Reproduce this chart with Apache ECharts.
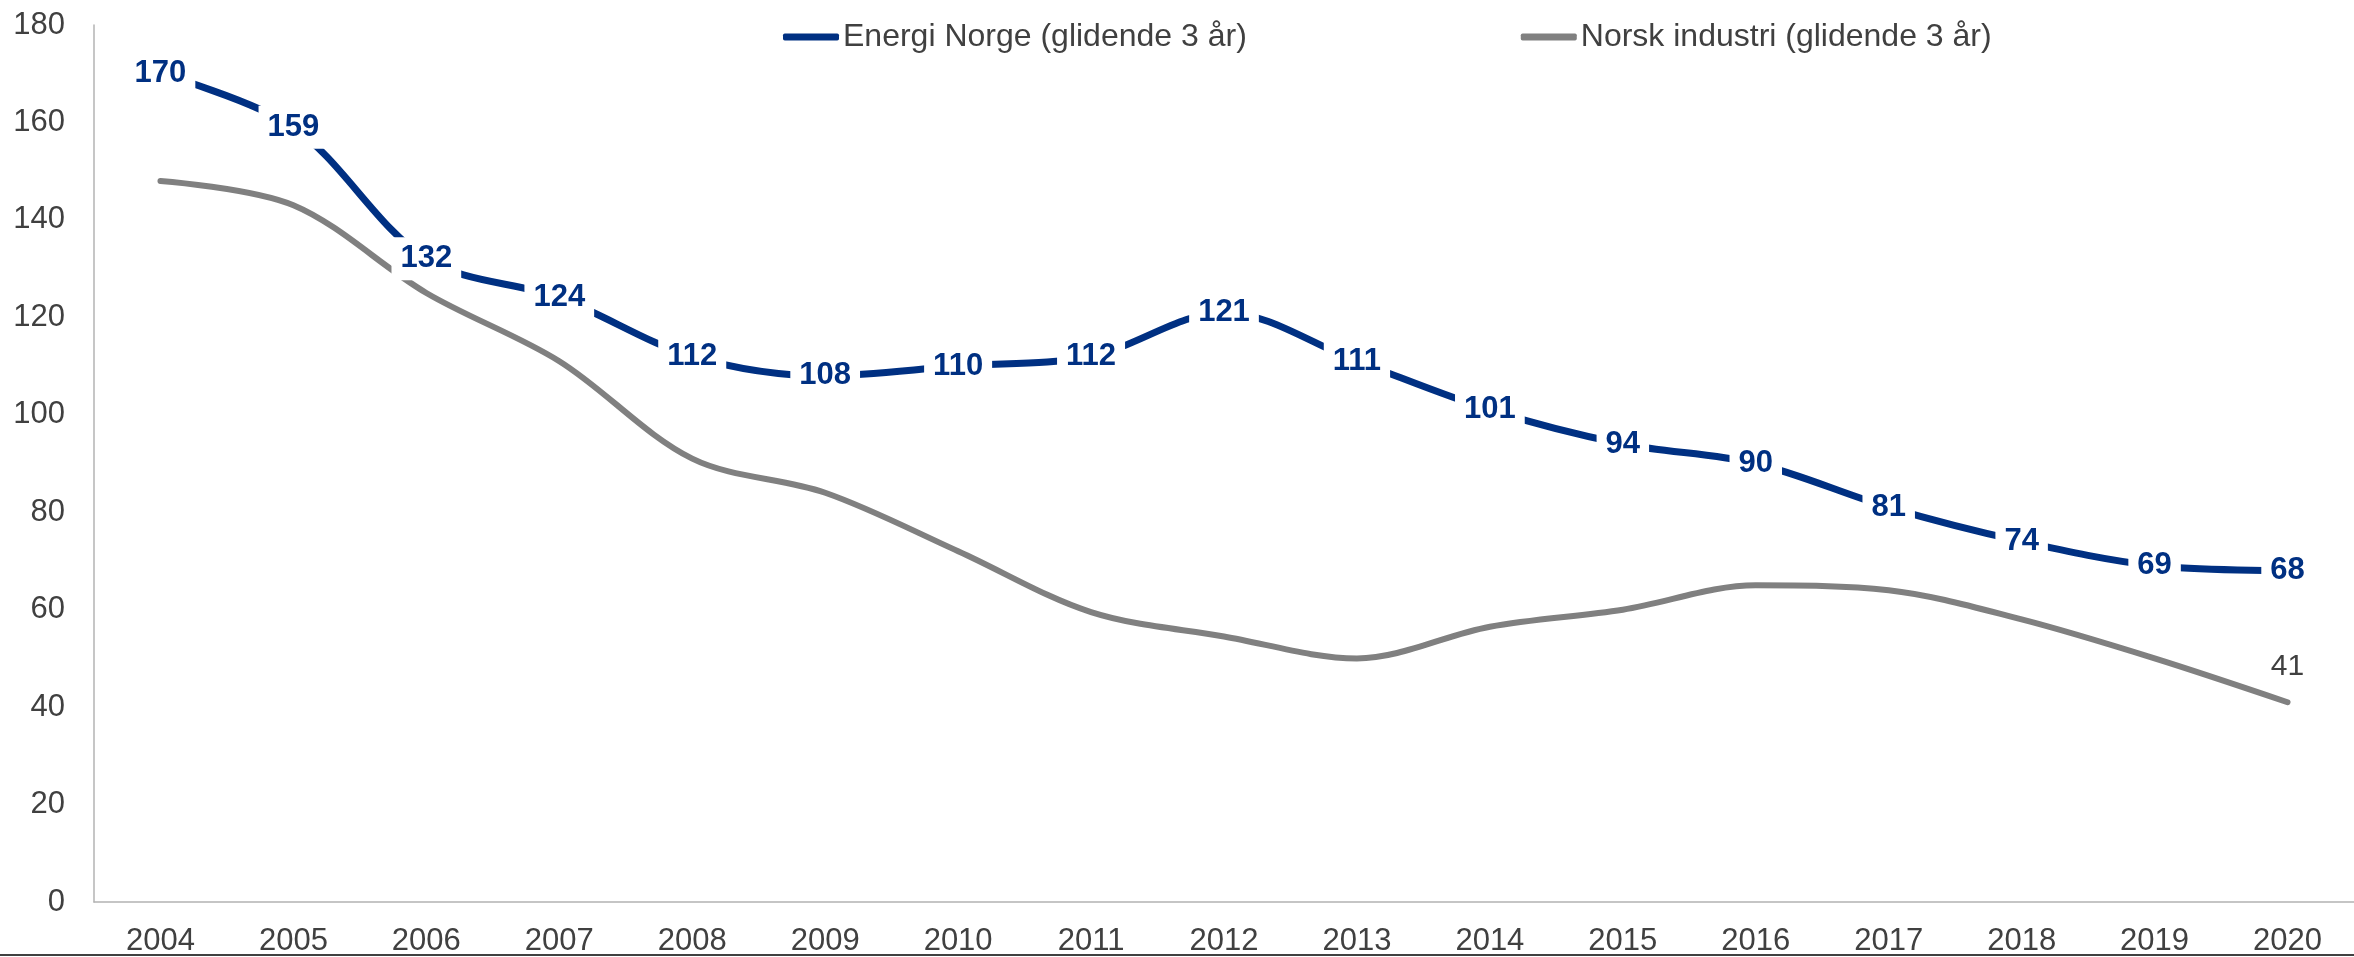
<!DOCTYPE html>
<html>
<head>
<meta charset="utf-8">
<style>
  html, body { margin: 0; padding: 0; background: #fff; }
  #chart { width: 2354px; height: 957px; }
</style>
<script src="https://cdn.jsdelivr.net/npm/echarts@6/dist/echarts.min.js"></script>
</head>
<body>
<div id="chart"></div>
<script>
var years = ['2004', '2005', '2006', '2007', '2008', '2009', '2010', '2011', '2012',
  '2013', '2014', '2015', '2016', '2017', '2018', '2019', '2020'];
var energiNorge = [170, 159, 132, 124, 112, 108, 110, 112, 121, 111, 101, 94, 90, 81, 74, 69, 68];
var norskIndustri = [148, 143, 125, 111, 91, 84, 72, 59.5, 54.5, 50, 56.5, 60, 65, 64, 58, 50, 41];
var yTicks = { min: 0, max: 180, interval: 20 };

var fontFamily = '"Liberation Sans", Arial, sans-serif';
var blue = '#003082';
var grey = '#808080';

// only the last point of the industry line carries a label
var industryData = norskIndustri.map(function (v, i) {
  if (i === norskIndustri.length - 1) {
    return { value: v, label: { show: true } };
  }
  return v;
});

var chart = echarts.init(document.getElementById('chart'));
chart.setOption({
  backgroundColor: '#ffffff',
  animation: false,
  textStyle: { fontFamily: fontFamily },
  legend: {
    left: 778,
    top: 16,
    itemGap: 274,
    itemWidth: 56,
    itemHeight: 7,
    icon: 'roundRect',
    textStyle: { fontSize: 32, color: '#404040', fontFamily: fontFamily, padding: [0, 0, 0, -1] },
    data: ['Energi Norge (glidende 3 år)', 'Norsk industri (glidende 3 år)']
  },
  grid: {
    left: 94,
    top: 25,
    bottom: 53,
    width: 2282
  },
  xAxis: {
    type: 'category',
    data: years,
    boundaryGap: true,
    axisLine: { lineStyle: { color: '#b3b3b3', width: 1.5 } },
    axisTick: { show: false },
    axisLabel: { fontSize: 31, color: '#404040', margin: 24, fontFamily: fontFamily }
  },
  yAxis: {
    type: 'value',
    min: yTicks.min,
    max: yTicks.max,
    interval: yTicks.interval,
    splitLine: { show: false },
    axisLine: { show: true, lineStyle: { color: '#b3b3b3', width: 1.5 } },
    axisTick: { show: false },
    axisLabel: { fontSize: 31, color: '#404040', margin: 29, fontFamily: fontFamily, padding: [4, 0, 0, 0] }
  },
  series: [
    {
      name: 'Norsk industri (glidende 3 år)',
      type: 'line',
      z: 2,
      data: industryData,
      smooth: 0.33,
      symbol: 'circle',
      symbolSize: 1,
      itemStyle: { color: grey },
      lineStyle: { color: grey, width: 6, cap: 'round' },
      label: {
        show: false,
        position: 'top',
        distance: 20,
        fontSize: 30,
        color: '#404040',
        fontFamily: fontFamily
      }
    },
    {
      name: 'Energi Norge (glidende 3 år)',
      type: 'line',
      z: 3,
      data: energiNorge,
      smooth: 0.33,
      symbol: 'circle',
      symbolSize: 1,
      itemStyle: { color: blue },
      lineStyle: { color: blue, width: 7, cap: 'round' },
      label: {
        show: true,
        position: 'inside',
        fontSize: 31,
        fontWeight: 'bold',
        color: blue,
        fontFamily: fontFamily,
        backgroundColor: '#ffffff',
        padding: [6, 9]
      }
    }
  ],
  graphic: [{
    type: 'line',
    shape: { x1: 0, y1: 955, x2: 2354, y2: 955 },
    style: { stroke: '#404040', lineWidth: 2 }
  }]
});
</script>
</body>
</html>
